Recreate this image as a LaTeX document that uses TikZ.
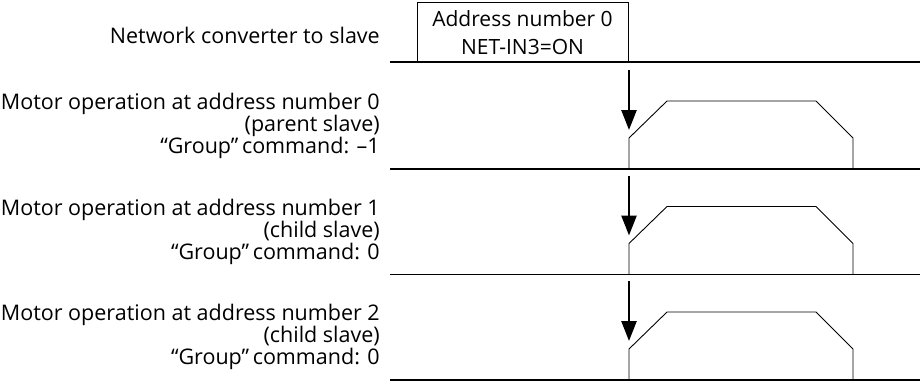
\documentclass[tikz,border=0pt]{standalone}
\usepackage{fontspec}
\setmainfont{Open Sans}
\usetikzlibrary{arrows.meta}
\begin{document}
\begin{tikzpicture}[x=1pt,y=-1pt,
  lbl/.style={anchor=east,align=right,font=\fontsize{21.5}{22}\selectfont,inner sep=0pt},
  boxtxt/.style={draw,line width=1pt,align=center,font=\fontsize{21}{28}\selectfont,inner sep=0pt,minimum width=211pt,minimum height=60pt},
  baseln/.style={line width=1.1pt},
  wave/.style={line width=0.9pt,line join=miter},
  trig/.style={line width=2.6pt,-{Triangle[length=20pt,width=15pt]}}]
\useasboundingbox (0,0) rectangle (920,383);
% top row
\node[lbl] (nc) at (380,35) {Network converter to slave};
\node[boxtxt] (box) at (522.5,32.5) {Address number 0\\NET-IN3=ON};
\coordinate (l0a) at (390,62);
\coordinate (l0b) at (920,62);
\draw[baseln] (l0a) -- (l0b);
% blocks
\foreach \b/\n/\s/\c in {169/0/parent/{–1},274.5/1/child/0,380/2/child/0}{
  \node[lbl] (lab\n) at (380,\b-43) {Motor operation at address number \n\\(\s\ slave)\\“Group”\,command: \c};
  \coordinate (la\n) at (390,\b);
  \coordinate (lb\n) at (920,\b);
  \draw[baseln] (la\n) -- (lb\n);
  \coordinate (w1\n) at (629,\b);
  \coordinate (w2\n) at (629,\b-31);
  \coordinate (w3\n) at (667,\b-68);
  \coordinate (w4\n) at (816,\b-68);
  \coordinate (w5\n) at (853,\b-31);
  \coordinate (w6\n) at (853,\b);
  \draw[wave] (w1\n) -- (w2\n) -- (w3\n) -- (w4\n) -- (w5\n) -- (w6\n);
  \coordinate (as\n) at (629,\b-99);
  \coordinate (at\n) at (629,\b-39);
  \draw[trig] (as\n) -- (at\n);
}
\end{tikzpicture}
\end{document}
